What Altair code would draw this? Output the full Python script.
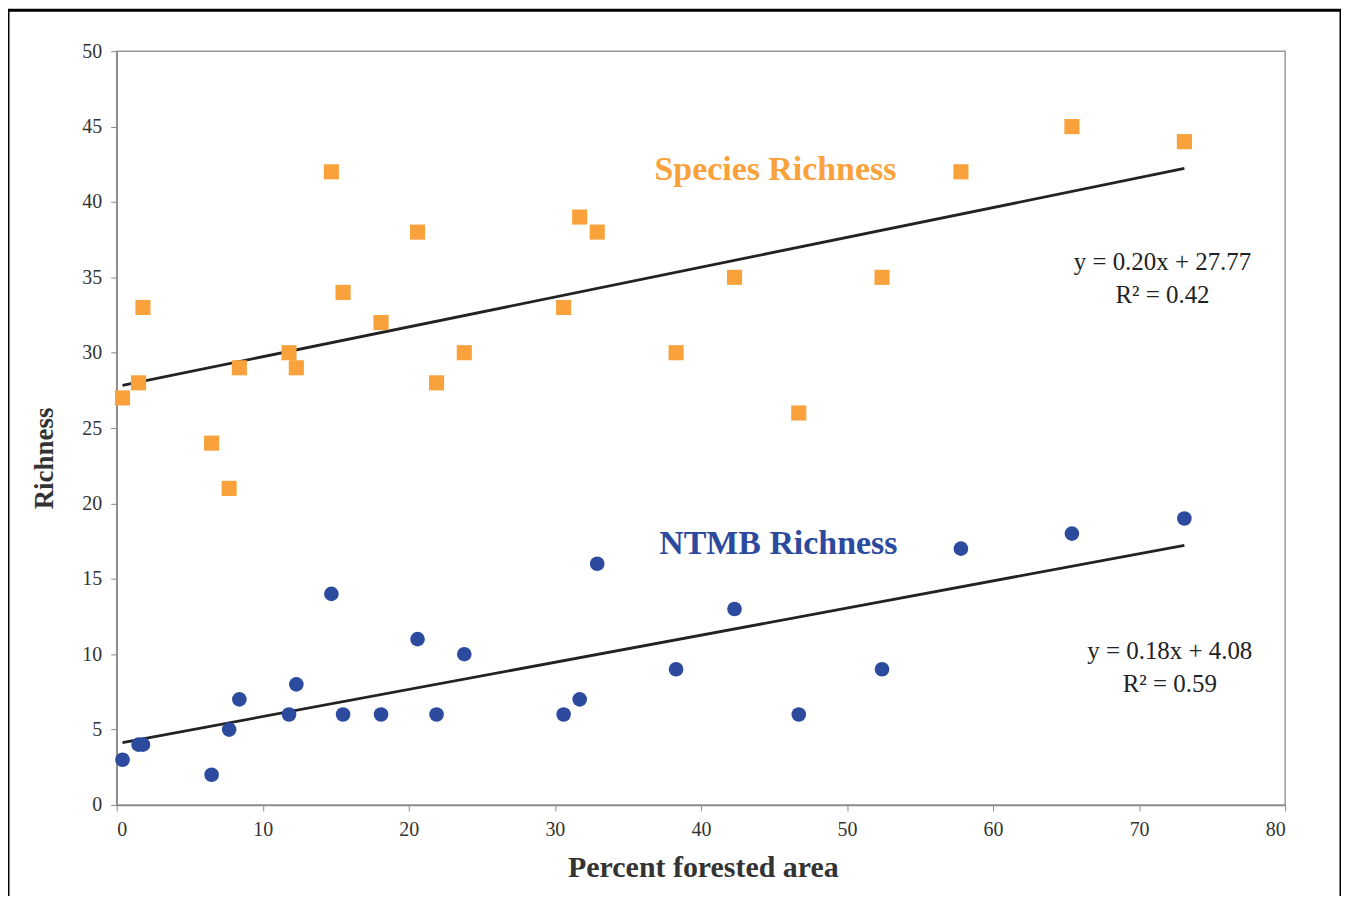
import altair as alt
import pandas as pd

# Percent forested area for each site
forest_pct = [0.4, 1.5, 1.8, 6.5, 7.7, 8.4, 11.8, 12.3, 14.7, 15.5, 18.1, 20.6,
              21.9, 23.8, 30.6, 31.7, 32.9, 38.3, 42.3, 46.7, 52.4, 57.8, 65.4, 73.1]
# Species richness (orange squares)
species_rich = [27, 28, 33, 24, 21, 29, 30, 29, 42, 34, 32, 38,
                28, 30, 33, 39, 38, 30, 35, 26, 35, 42, 45, 44]
# NTMB richness (blue circles)
ntmb_rich = [3, 4, 4, 2, 5, 7, 6, 8, 14, 6, 6, 11,
             6, 10, 6, 7, 16, 9, 13, 6, 9, 17, 18, 19]

x_ticks = [0, 10, 20, 30, 40, 50, 60, 70, 80]
y_ticks = [0, 5, 10, 15, 20, 25, 30, 35, 40, 45, 50]

ORANGE = "#F9A23C"
BLUE = "#2C4A9E"
FONT = "Liberation Serif"

df = pd.DataFrame({"x": forest_pct, "species": species_rich, "ntmb": ntmb_rich})

xs = alt.Scale(domain=[0, 80], nice=False)
ys = alt.Scale(domain=[0, 50], nice=False)

x_axis = alt.Axis(values=x_ticks, title="Percent forested area", grid=False,
                  tickSize=6, labelPadding=9, titleX=588, titleY=63,
                  titleFontSize=30,
                  titleBaseline="middle", titleAlign="center")
y_axis = alt.Axis(values=y_ticks, title="Richness", grid=False,
                  tickSize=6, labelPadding=9, titleX=-72, titleY=408,
                  titleFontSize=27,
                  titleBaseline="middle", titleAlign="center", titleAngle=-90)

base = alt.Chart(df)

sp_pts = base.mark_point(shape="square", filled=True, size=230, color=ORANGE,
                         opacity=1).encode(
    x=alt.X("x:Q", scale=xs, axis=x_axis),
    y=alt.Y("species:Q", scale=ys, axis=y_axis),
)
nt_pts = base.mark_point(shape="circle", filled=True, size=215, color=BLUE,
                         opacity=1).encode(
    x=alt.X("x:Q", scale=xs),
    y=alt.Y("ntmb:Q", scale=ys),
)
sp_line = base.transform_regression("x", "species").mark_line(
    color="#222222", strokeWidth=2.8).encode(
    x=alt.X("x:Q", scale=xs), y=alt.Y("species:Q", scale=ys))
nt_line = base.transform_regression("x", "ntmb").mark_line(
    color="#222222", strokeWidth=2.8).encode(
    x=alt.X("x:Q", scale=xs), y=alt.Y("ntmb:Q", scale=ys))

labels = pd.DataFrame({
    "x": [45.1, 45.3],
    "y": [42.1, 17.3],
    "text": ["Species Richness", "NTMB Richness"],
    "color": [ORANGE, BLUE],
})
label_layer = alt.Chart(labels).mark_text(font=FONT, fontSize=34, fontWeight="bold",
                                          align="center", baseline="middle").encode(
    x=alt.X("x:Q", scale=xs), y=alt.Y("y:Q", scale=ys), text="text:N",
    color=alt.Color("color:N", scale=None))

eqs = pd.DataFrame({
    "x": [71.6, 71.6, 72.1, 72.1],
    "y": [36.0, 33.85, 10.2, 8.05],
    "text": ["y = 0.20x + 27.77", "R² = 0.42", "y = 0.18x + 4.08", "R² = 0.59"],
})
eq_layer = alt.Chart(eqs).mark_text(font=FONT, fontSize=25, color="#222222",
                                    align="center", baseline="middle").encode(
    x=alt.X("x:Q", scale=xs), y=alt.Y("y:Q", scale=ys), text="text:N")

frame = alt.Chart(alt.Data(values=[{"a": 1}])).mark_rect(
    fillOpacity=0, stroke="black", strokeWidth=3).encode(
    x=alt.value(-109), x2=alt.value(1228), y=alt.value(-41), y2=alt.value(900))

chart = alt.layer(sp_line, nt_line, sp_pts, nt_pts, label_layer, eq_layer, frame).properties(
    width=1172, height=756,
    autosize=alt.AutoSizeParams(type="none"),
    padding={"left": 109, "top": 42, "right": 56, "bottom": 90},
    background="white",
).configure_view(
    stroke="#9a9a9a", strokeWidth=1.5
).configure_axis(
    domainColor="#8a8a8a", domainWidth=1.5, tickColor="#8a8a8a",
    labelFont=FONT, labelFontSize=20, labelColor="#333333",
    titleFont=FONT, titleFontWeight="bold", titleColor="#333333",
)

chart.save("out.html", embed_options={"renderer": "svg", "actions": False})
